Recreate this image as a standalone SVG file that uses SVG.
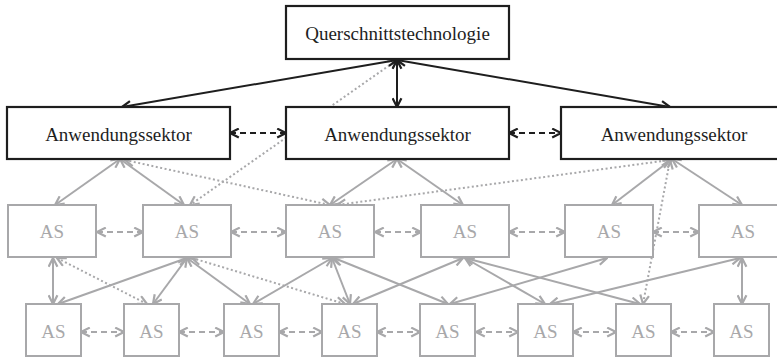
<svg xmlns="http://www.w3.org/2000/svg" width="777" height="358" viewBox="0 0 777 358">
<style>
.bk{fill:#fff;stroke:#1e1e1e;stroke-width:2.2}
.gb{fill:#fff;stroke:#a8a8aa;stroke-width:2}
.bt{font-family:"Liberation Serif","Times New Roman",serif;font-size:19px;fill:#1e1e1e;text-anchor:middle}
.gt{font-family:"Liberation Serif","Times New Roman",serif;font-size:19px;fill:#a8a8aa;text-anchor:middle}
.cb{stroke:#1e1e1e;stroke-width:2;fill:none;marker-start:url(#ab);marker-end:url(#ab)}
.cg{stroke:#a8a8aa;stroke-width:2;fill:none;marker-start:url(#ag);marker-end:url(#ag)}
.dash{stroke-dasharray:6 4}
.dot{stroke-dasharray:2 2.5}
</style>
<defs>
<marker id="ab" viewBox="0 0 10 10" refX="9" refY="5" markerWidth="11" markerHeight="11" markerUnits="userSpaceOnUse" orient="auto-start-reverse"><path d="M1,1 L9,5 L1,9" fill="none" stroke="#1e1e1e" stroke-width="2"/></marker>
<marker id="ag" viewBox="0 0 10 10" refX="9" refY="5" markerWidth="11" markerHeight="11" markerUnits="userSpaceOnUse" orient="auto-start-reverse"><path d="M1,1 L9,5 L1,9" fill="none" stroke="#a8a8aa" stroke-width="2"/></marker>
</defs>
<g id="connectors">
<line class="cg dot" x1="397" y1="60" x2="190" y2="205"/>
<line class="cg dot" x1="125" y1="160" x2="330" y2="205"/>
<line class="cg dot" x1="670" y1="160" x2="337" y2="205"/>
<line class="cg dot" x1="670" y1="160" x2="643" y2="304"/>
<line class="cg dot" x1="57" y1="258" x2="147" y2="304"/>
<line class="cg dot" x1="192" y1="258" x2="345" y2="304"/>
<line class="cg" x1="120" y1="159" x2="55" y2="205"/>
<line class="cg" x1="120" y1="159" x2="184" y2="205"/>
<line class="cg" x1="397" y1="159" x2="330" y2="205"/>
<line class="cg" x1="397" y1="159" x2="463" y2="205"/>
<line class="cg" x1="672" y1="159" x2="612" y2="205"/>
<line class="cg" x1="672" y1="159" x2="742" y2="205"/>
<line class="cg dash" x1="97" y1="232" x2="143" y2="232"/>
<line class="cg dash" x1="231" y1="232" x2="286" y2="232"/>
<line class="cg dash" x1="375" y1="232" x2="421" y2="232"/>
<line class="cg dash" x1="509" y1="232" x2="565" y2="232"/>
<line class="cg dash" x1="653" y1="232" x2="699" y2="232"/>
<line class="cg dash" x1="81" y1="332" x2="124" y2="332"/>
<line class="cg dash" x1="179" y1="332" x2="224" y2="332"/>
<line class="cg dash" x1="279" y1="332" x2="322" y2="332"/>
<line class="cg dash" x1="377" y1="332" x2="420" y2="332"/>
<line class="cg dash" x1="476" y1="332" x2="518" y2="332"/>
<line class="cg dash" x1="573" y1="332" x2="616" y2="332"/>
<line class="cg dash" x1="671" y1="332" x2="714" y2="332"/>
<line class="cg" x1="53" y1="258" x2="53" y2="304"/>
<line class="cg" x1="187" y1="258" x2="58" y2="304"/>
<line class="cg" x1="187" y1="258" x2="153" y2="304"/>
<line class="cg" x1="187" y1="258" x2="250" y2="304"/>
<line class="cg" x1="332" y1="258" x2="253" y2="304"/>
<line class="cg" x1="332" y1="258" x2="350" y2="304"/>
<line class="cg" x1="334" y1="258" x2="448" y2="304"/>
<line class="cg" x1="353" y1="304" x2="463" y2="258"/>
<line class="cg" x1="465" y1="258" x2="545" y2="304"/>
<line class="cg" x1="465" y1="258" x2="640" y2="304"/>
<line class="cg" x1="450" y1="304" x2="607" y2="258"/>
<line class="cg" x1="550" y1="304" x2="740" y2="258"/>
<line class="cg" x1="742" y1="258" x2="742" y2="304"/>
<line class="cb" x1="397" y1="60" x2="122" y2="107"/>
<line class="cb" x1="397" y1="60" x2="670" y2="107"/>
<line class="cb" x1="397" y1="60" x2="397" y2="107"/>
<line class="cb dash" x1="230" y1="133" x2="286" y2="133"/>
<line class="cb dash" x1="509" y1="133" x2="561" y2="133"/>
</g>
<g id="querschnitt"><rect class="bk" x="286" y="6" width="223" height="53"/><text class="bt" x="397.5" y="39.5">Querschnittstechnologie</text></g>
<g id="sektor1"><rect class="bk" x="7" y="107" width="223" height="52"/><text class="bt" x="118.5" y="140.5">Anwendungssektor</text></g>
<g id="sektor2"><rect class="bk" x="286" y="107" width="223" height="52"/><text class="bt" x="397.5" y="140.5">Anwendungssektor</text></g>
<g id="sektor3"><rect class="bk" x="561" y="107" width="223" height="52"/><text class="bt" x="674" y="140.5">Anwendungssektor</text></g>
<g id="as1-1"><rect class="gb" x="8" y="205" width="88" height="52"/><text class="gt" x="52" y="238">AS</text></g>
<g id="as1-2"><rect class="gb" x="143" y="205" width="88" height="52"/><text class="gt" x="187" y="238">AS</text></g>
<g id="as1-3"><rect class="gb" x="286" y="205" width="88" height="52"/><text class="gt" x="330" y="238">AS</text></g>
<g id="as1-4"><rect class="gb" x="421" y="205" width="88" height="52"/><text class="gt" x="465" y="238">AS</text></g>
<g id="as1-5"><rect class="gb" x="565" y="205" width="88" height="52"/><text class="gt" x="609" y="238">AS</text></g>
<g id="as1-6"><rect class="gb" x="699" y="205" width="88" height="52"/><text class="gt" x="743" y="238">AS</text></g>
<g id="as2-1"><rect class="gb" x="26" y="304" width="55" height="52"/><text class="gt" x="53.5" y="338">AS</text></g>
<g id="as2-2"><rect class="gb" x="124" y="304" width="55" height="52"/><text class="gt" x="151.5" y="338">AS</text></g>
<g id="as2-3"><rect class="gb" x="224" y="304" width="55" height="52"/><text class="gt" x="251.5" y="338">AS</text></g>
<g id="as2-4"><rect class="gb" x="322" y="304" width="55" height="52"/><text class="gt" x="349.5" y="338">AS</text></g>
<g id="as2-5"><rect class="gb" x="420" y="304" width="55" height="52"/><text class="gt" x="447.5" y="338">AS</text></g>
<g id="as2-6"><rect class="gb" x="518" y="304" width="55" height="52"/><text class="gt" x="545.5" y="338">AS</text></g>
<g id="as2-7"><rect class="gb" x="616" y="304" width="55" height="52"/><text class="gt" x="643.5" y="338">AS</text></g>
<g id="as2-8"><rect class="gb" x="714" y="304" width="55" height="52"/><text class="gt" x="741.5" y="338">AS</text></g>
</svg>
